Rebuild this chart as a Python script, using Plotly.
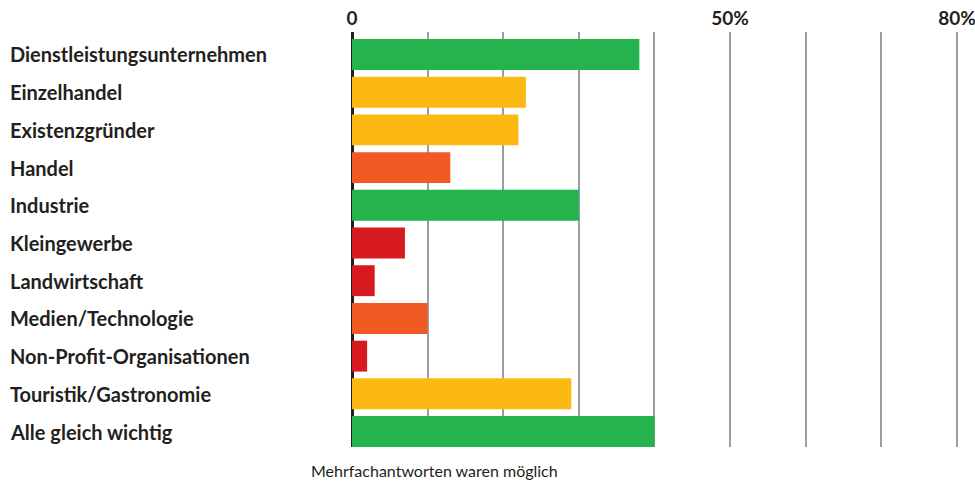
import plotly.graph_objects as go

categories = [
    "Dienstleistungsunternehmen",
    "Einzelhandel",
    "Existenzgründer",
    "Handel",
    "Industrie",
    "Kleingewerbe",
    "Landwirtschaft",
    "Medien/Technologie",
    "Non-Profit-Organisationen",
    "Touristik/Gastronomie",
    "Alle gleich wichtig",
]
values = [38, 23, 22, 13, 30, 7, 3, 10, 2, 29, 40]

grid_vals = [0, 10, 20, 30, 40, 50, 60, 70, 80]
tick_text = ["0", "", "", "", "", "50%", "", "", "80%"]
footnote = "Mehrfachantworten waren möglich"

GREEN = "#25b34e"
YELLOW = "#fdb913"
ORANGE = "#f15a22"
RED = "#d71920"


def band_colour(v):
    if v >= 30:
        return GREEN
    if v >= 20:
        return YELLOW
    if v >= 10:
        return ORANGE
    return RED


colours = [band_colour(v) for v in values]

W, H = 975, 484
X_MAX = 80.4
PX_PER_UNIT = (957 - 352) / 80
ML, MT, MB = 352, 32, 37
plot_w = round(X_MAX * PX_PER_UNIT)
MR = W - ML - plot_w

fig = go.Figure(
    go.Bar(
        x=values,
        y=categories,
        orientation="h",
        marker=dict(color=colours, line=dict(width=0)),
        width=0.82,
        hoverinfo="x+y",
    )
)

label_font = dict(family="Lato", size=20, color="#231f20")

annotations = [
    dict(
        x=(8 - ML) / plot_w,
        xref="paper",
        y=c,
        yref="y",
        text="<b>%s</b>" % c,
        showarrow=False,
        xanchor="left",
        yanchor="middle",
        font=label_font,
    )
    for c in categories
]
annotations.append(
    dict(
        x=(434 - ML) / plot_w,
        xref="paper",
        y=-(470 - (H - MB)) / (H - MT - MB),
        yref="paper",
        text=footnote,
        showarrow=False,
        xanchor="center",
        yanchor="middle",
        font=dict(family="Lato", size=16, color="#231f20"),
    )
)

fig.update_layout(
    width=W,
    height=H,
    margin=dict(l=ML, r=MR, t=MT, b=MB, pad=0, autoexpand=False),
    paper_bgcolor="white",
    plot_bgcolor="white",
    showlegend=False,
    annotations=annotations,
    xaxis=dict(
        side="top",
        range=[0, X_MAX],
        tickvals=grid_vals,
        ticktext=["<b>%s</b>" % t if t else "" for t in tick_text],
        tickfont=dict(family="Lato", size=19, color="#231f20"),
        ticklabeloverflow="allow",
        showgrid=True,
        gridcolor="#9d9ea1",
        gridwidth=2,
        zeroline=True,
        zerolinecolor="#231f20",
        zerolinewidth=3,
        showline=False,
        ticks="",
        ticklabelstandoff=2,
        automargin=False,
        fixedrange=True,
    ),
    yaxis=dict(
        type="category",
        categoryorder="array",
        categoryarray=categories,
        range=[10.41, -0.596],
        showticklabels=False,
        showgrid=False,
        zeroline=False,
        ticks="",
        automargin=False,
        fixedrange=True,
    ),
)

fig.write_html("out.html")
